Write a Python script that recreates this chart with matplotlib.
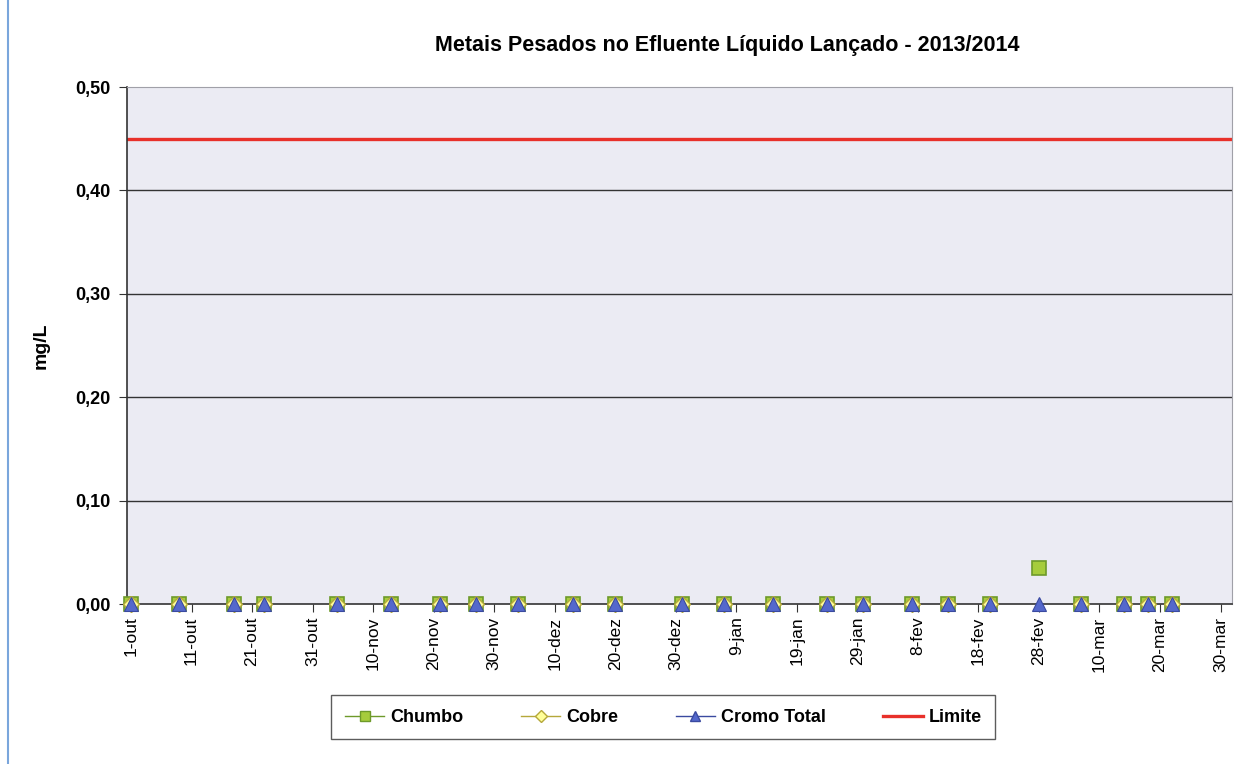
import datetime as dt

import matplotlib.pyplot as plt
import matplotlib.dates as mdates
from matplotlib.lines import Line2D

plt.rcParams['font.family'] = ['Liberation Sans', 'DejaVu Sans']

# sampling dates (2013/2014) and measured concentrations in mg/L
sample_dates = [
    "2013-10-01", "2013-10-09", "2013-10-18", "2013-10-23", "2013-11-04",
    "2013-11-13", "2013-11-21", "2013-11-27", "2013-12-04", "2013-12-13",
    "2013-12-20", "2013-12-31", "2014-01-07", "2014-01-15", "2014-01-24",
    "2014-01-30", "2014-02-07", "2014-02-13", "2014-02-20", "2014-02-28",
    "2014-03-07", "2014-03-14", "2014-03-18", "2014-03-22",
]
chumbo = [0.0] * 19 + [0.035] + [0.0] * 4
cobre = [0.0] * 19 + [None] + [0.0] * 4
cromo_total = [0.0] * 24
limite = 0.45

month_pt = ["jan", "fev", "mar", "abr", "mai", "jun",
            "jul", "ago", "set", "out", "nov", "dez"]

dates = [dt.datetime.strptime(d, "%Y-%m-%d") for d in sample_dates]
start = dt.datetime(2013, 10, 1)
tick_dates = [start + dt.timedelta(days=10 * i) for i in range(19)]


def pick(values):
    xs, ys = [], []
    for d, v in zip(dates, values):
        if v is not None:
            xs.append(d)
            ys.append(v)
    return xs, ys


fig = plt.figure(figsize=(12.56, 7.64), dpi=100)
ax = fig.add_axes([0.1011, 0.2094, 0.8798, 0.6767])
ax.set_facecolor("#ebebf3")

for y in [0.1, 0.2, 0.3, 0.4]:
    ax.axhline(y, color="#333333", lw=1.0, zorder=1)

x0 = mdates.date2num(start)
ax.plot([x0 - 1, x0 + 185], [limite, limite], color="#e8302a", lw=2.4, zorder=2)

sq_x, sq_y = pick(chumbo)
ax.plot(sq_x, sq_y, ls="none", marker="s", ms=10, mfc="#a6cc3c", mec="#6e9a2a",
        mew=1.2, zorder=4, clip_on=False)
cb_x, cb_y = pick(cobre)
ax.plot(cb_x, cb_y, ls="none", marker="D", ms=8, mfc="#ffff99", mec="#b5a83a",
        mew=1.0, zorder=5, clip_on=False)
cr_x, cr_y = pick(cromo_total)
ax.plot(cr_x, cr_y, ls="none", marker="^", ms=10, mfc="#5468cc", mec="#3a4aa0",
        mew=0.8, zorder=6, clip_on=False)

ax.set_ylim(0, 0.5)
ax.set_xlim(x0 - 0.66, x0 + 181.9)
ax.set_yticks([0, 0.1, 0.2, 0.3, 0.4, 0.5])
ax.set_yticklabels([f"{v:.2f}".replace(".", ",") for v in [0, 0.1, 0.2, 0.3, 0.4, 0.5]],
                   fontsize=13, fontweight="bold")
ax.set_xticks(tick_dates)
ax.set_xticklabels([f"{d.day}-{month_pt[d.month - 1]}" for d in tick_dates],
                   rotation=90, fontsize=12.5)
ax.tick_params(axis="both", direction="out", length=6, color="#333333")
ax.tick_params(axis="y", pad=6)
ax.tick_params(axis="x", pad=3)

for side in ["left", "bottom"]:
    ax.spines[side].set_color("#333333")
    ax.spines[side].set_linewidth(1.2)
for side in ["top", "right"]:
    ax.spines[side].set_color("#a0a0a8")
    ax.spines[side].set_linewidth(0.8)

ax.set_ylabel("mg/L", fontsize=14, fontweight="bold", labelpad=18)
fig.text(0.579, 0.941, "Metais Pesados no Efluente Líquido Lançado - 2013/2014",
         ha="center", va="center", fontsize=15.5, fontweight="bold")

handles = [
    Line2D([], [], color="#6e9a2a", lw=1.0, marker="s", ms=7, mfc="#a6cc3c", mec="#6e9a2a"),
    Line2D([], [], color="#b5a83a", lw=1.0, marker="D", ms=6, mfc="#ffff99", mec="#b5a83a"),
    Line2D([], [], color="#3a4aa0", lw=1.0, marker="^", ms=7, mfc="#5468cc", mec="#3a4aa0"),
    Line2D([], [], color="#e8302a", lw=2.4),
]
leg = fig.legend(handles, ["Chumbo", "Cobre", "Cromo Total", "Limite"],
                 loc="center", bbox_to_anchor=(0.528, 0.061), ncol=4,
                 frameon=True, fancybox=False, fontsize=13, handlelength=2.2,
                 columnspacing=3.2, borderpad=0.75, borderaxespad=0,
                 handletextpad=0.3)
leg.get_frame().set_edgecolor("#333333")
leg.get_frame().set_linewidth(1.0)
for t in leg.get_texts():
    t.set_fontweight("bold")

# page frame on the left edge
fig.add_artist(Line2D([0.0065, 0.0065], [0.0, 1.0], color="#7aa6dc", lw=1.5))

fig.savefig("out.png", dpi=100)
